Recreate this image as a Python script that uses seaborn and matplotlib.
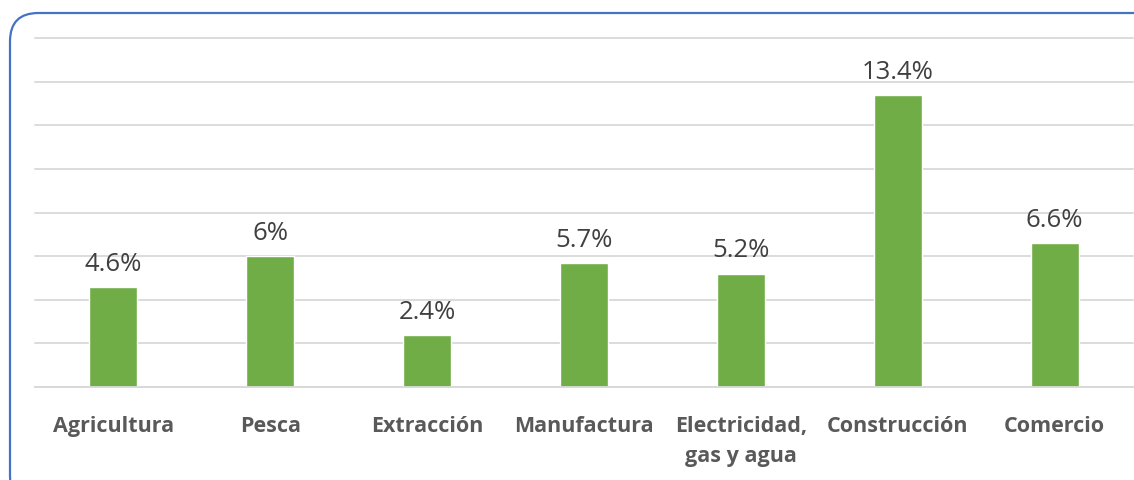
import matplotlib
matplotlib.use("Agg")
import matplotlib.pyplot as plt
import seaborn as sns
import pandas as pd
from matplotlib.patches import FancyBboxPatch

categories = ["Agricultura", "Pesca", "Extracción", "Manufactura",
              "Electricidad,\ngas y agua", "Construcción", "Comercio"]
values = [4.6, 6.0, 2.4, 5.7, 5.2, 13.4, 6.6]
value_labels = ["4.6%", "6%", "2.4%", "5.7%", "5.2%", "13.4%", "6.6%"]

sns.set_theme(style="white")
plt.rcParams['font.family'] = ['Open Sans', 'DejaVu Sans']

fig = plt.figure(figsize=(11.34, 4.81), dpi=100)
ax = fig.add_axes([35/1134, 1-388/481, 1098/1134, (388-39)/481])

df = pd.DataFrame({"cat": categories, "val": values})
sns.barplot(data=df, x="cat", y="val", color="#70AD47", saturation=1,
            width=0.306, ax=ax)

ax.set_ylim(0, 16)
ax.set_yticks(range(0, 17, 2))
ax.yaxis.grid(True, color="#D9D9D9", linewidth=1.3)
for gl in ax.get_ygridlines():
    gl.set_clip_on(False)
ax.set_axisbelow(True)
ax.tick_params(axis="y", left=False, labelleft=False)
ax.tick_params(axis="x", bottom=False, pad=14)
for s in ["top", "right", "left"]:
    ax.spines[s].set_visible(False)
ax.spines["bottom"].set_color("#D9D9D9")
ax.spines["bottom"].set_linewidth(1.3)
ax.set_xlabel("")
ax.set_ylabel("")
for lbl in ax.get_xticklabels():
    lbl.set_fontsize(15.5)
    lbl.set_fontweight("bold")
    lbl.set_color("#595959")
    lbl.set_linespacing(1.6)
    lbl.set_verticalalignment("top")

ax.bar_label(ax.containers[0], labels=value_labels, padding=8,
             fontsize=18.5, color="#404040")

box = FancyBboxPatch((10/1134, -0.05), 1.2, 1-14/481+0.05,
                     boxstyle="round,pad=0,rounding_size=0.025",
                     transform=fig.transFigure, fill=False,
                     edgecolor="#4472C4", linewidth=1.6,
                     mutation_aspect=1134/481, clip_on=False)
fig.patches.append(box)

fig.savefig("out.png", dpi=100)
